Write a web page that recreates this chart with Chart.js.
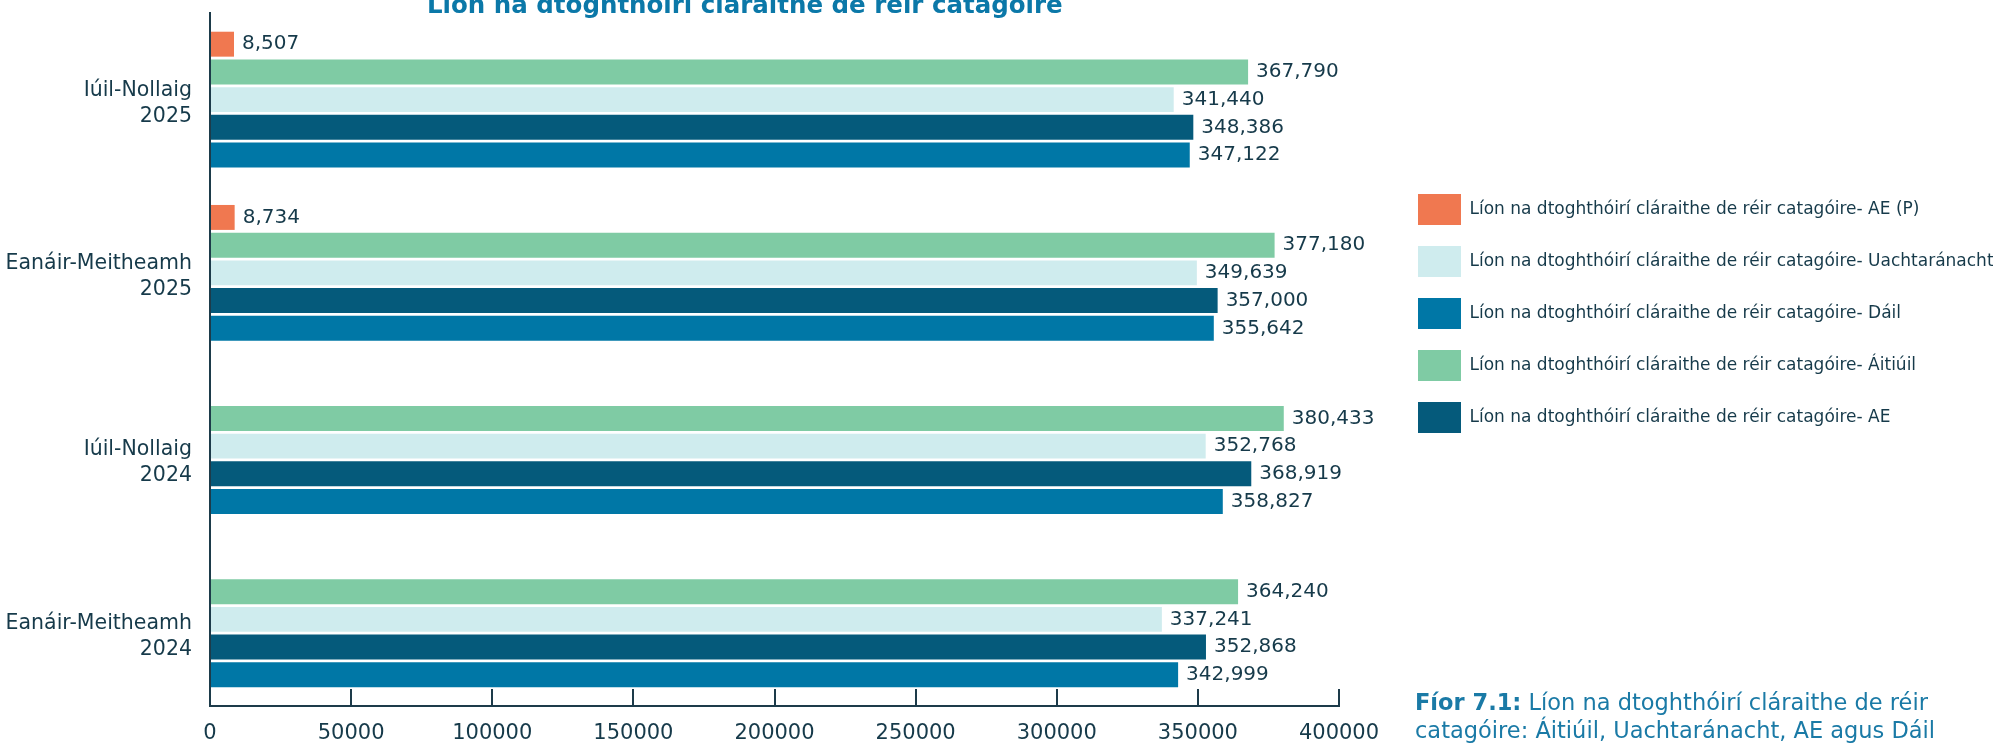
<!DOCTYPE html>
<html>
<head>
<meta charset="utf-8">
<script src="https://cdn.jsdelivr.net/npm/chart.js@4/dist/chart.umd.min.js"></script>
<style>
  html, body { margin: 0; padding: 0; background: #ffffff; overflow: hidden; width: 1993px; height: 743px; }
  #wrap { position: relative; width: 1993px; height: 743px; overflow: hidden; }
  canvas { position: absolute; left: 0; top: 0; }
  #title { position: absolute; left: 427px; top: -8px; font: bold 24.5px/25px "DejaVu Sans"; color: #0B78A8; white-space: nowrap; }
  #caption { position: absolute; left: 1415px; top: 689px; font: 22.5px/27.5px "DejaVu Sans"; color: #1A7AA6; white-space: nowrap; }
</style>
</head>
<body>
<div id="wrap">
  <canvas id="c" width="1993" height="743"></canvas>
  <div id="title">Líon na dtoghthóirí cláraithe de réir catagóire</div>
  <div id="caption"><b>Fíor 7.1:</b> Líon na dtoghthóirí cláraithe de réir<br>catagóire: Áitiúil, Uachtaránacht, AE agus Dáil</div>
</div>
<script>
// ---- data ----
const categories = [
  ["Iúil-Nollaig", "2025"],
  ["Eanáir-Meitheamh", "2025"],
  ["Iúil-Nollaig", "2024"],
  ["Eanáir-Meitheamh", "2024"]
];
const seriesNames = [
  "Líon na dtoghthóirí cláraithe de réir catagóire- AE (P)",
  "Líon na dtoghthóirí cláraithe de réir catagóire- Áitiúil",
  "Líon na dtoghthóirí cláraithe de réir catagóire- Uachtaránacht",
  "Líon na dtoghthóirí cláraithe de réir catagóire- AE",
  "Líon na dtoghthóirí cláraithe de réir catagóire- Dáil"
];
const aePValues           = [8507, 8734, null, null];
const aitiuilValues       = [367790, 377180, 380433, 364240];
const uachtaranachtValues = [341440, 349639, 352768, 337241];
const aeValues            = [348386, 357000, 368919, 352868];
const dailValues          = [347122, 355642, 358827, 342999];
const xTickMin = 0, xTickMax = 400000, xTickStep = 50000;
const legendOrder = [0, 2, 4, 1, 3];

// ---- styles ----
const seriesColors = ["#F07850", "#7FCBA4", "#CFECEE", "#055A7B", "#0077A6"];
const TEXT = "#163A4A";
const AXIS = "#1D3B4A";
const FONT = "DejaVu Sans";

const seriesValues = [aePValues, aitiuilValues, uachtaranachtValues, aeValues, dailValues];

const legendShift = {
  id: 'legendShift',
  beforeUpdate(chart) {
    const lg = chart.legend;
    if (lg && !lg._fixedW) {
      const f = lg.fit;
      lg.fit = function () { f.call(this); this.width = 1993 - 1339; };
      lg._fixedW = true;
    }
  },
  afterLayout(chart) {
    const lg = chart.legend;
    if (!lg) return;
    lg.left = 1397; lg.right = lg.left + lg.width;
    const h = lg.height;
    lg.top = 173; lg.bottom = lg.top + h;
  }
};

const valueLabels = {
  id: 'valueLabels',
  afterDatasetsDraw(chart) {
    const ctx = chart.ctx;
    ctx.save();
    ctx.font = '20px "' + FONT + '"';
    ctx.fillStyle = TEXT;
    ctx.textBaseline = 'middle';
    ctx.textAlign = 'left';
    chart.data.datasets.forEach((ds, di) => {
      const meta = chart.getDatasetMeta(di);
      meta.data.forEach((el, i) => {
        const v = ds.data[i];
        if (v === null || v === undefined) return;
        ctx.fillText(v.toLocaleString('en-US'), el.x + 8, el.y);
      });
    });
    ctx.restore();
  }
};

new Chart(document.getElementById('c'), {
  type: 'bar',
  data: {
    labels: categories,
    datasets: seriesNames.map((name, i) => ({
      label: name,
      data: seriesValues[i],
      backgroundColor: seriesColors[i],
      borderWidth: 0
    }))
  },
  options: {
    responsive: false,
    animation: false,
    indexAxis: 'y',
    layout: { padding: { top: 13, left: 0, right: 0, bottom: 0 } },
    datasets: { bar: { categoryPercentage: 0.8, barPercentage: 0.9 } },
    plugins: {
      legend: {
        position: 'right',
        align: 'start',
        labels: {
          boxWidth: 43, boxHeight: 31, padding: 21,
          color: TEXT,
          font: { family: FONT, size: 17 },
          sort: (a, b) => legendOrder.indexOf(a.datasetIndex) - legendOrder.indexOf(b.datasetIndex)
        }
      },
      tooltip: { enabled: false },
      title: { display: false }
    },
    scales: {
      x: {
        min: xTickMin, max: xTickMax,
        ticks: {
          stepSize: xTickStep,
          callback: v => String(v),
          color: TEXT,
          font: { family: FONT, size: 21 },
          padding: 32, maxRotation: 0, autoSkip: false
        },
        grid: { display: true, drawOnChartArea: false, drawTicks: true, tickLength: -17, color: AXIS, lineWidth: 2 },
        border: { display: true, color: AXIS, width: 2 },
        afterFit(s) { s.height = 37; s.paddingLeft = 0; s.paddingRight = 0; }
      },
      y: {
        ticks: {
          color: TEXT,
          font: { family: FONT, size: 20.5, lineHeight: '26px' },
          padding: 18,
          callback: function (value, index) {
            const lines = categories[index];
            // centre the label on the bars that are shown
            return aePValues[index] === null ? [''].concat(lines) : lines;
          }
        },
        grid: { display: false, drawTicks: false },
        border: { display: true, color: AXIS, width: 2 },
        afterFit(s) { s.width = 210; s.paddingTop = 0; s.paddingBottom = 0; },
        afterUpdate(s) {
          if (!s._labelShift) {
            const f = s._computeLabelItems;
            s._computeLabelItems = function (ca) {
              const items = f.call(this, ca);
              items.forEach(it => { it.textOffset += 4; });
              return items;
            };
            s._labelShift = true;
            s._labelItems = null;
          }
        }
      }
    }
  },
  plugins: [legendShift, valueLabels]
});
</script>
</body>
</html>
